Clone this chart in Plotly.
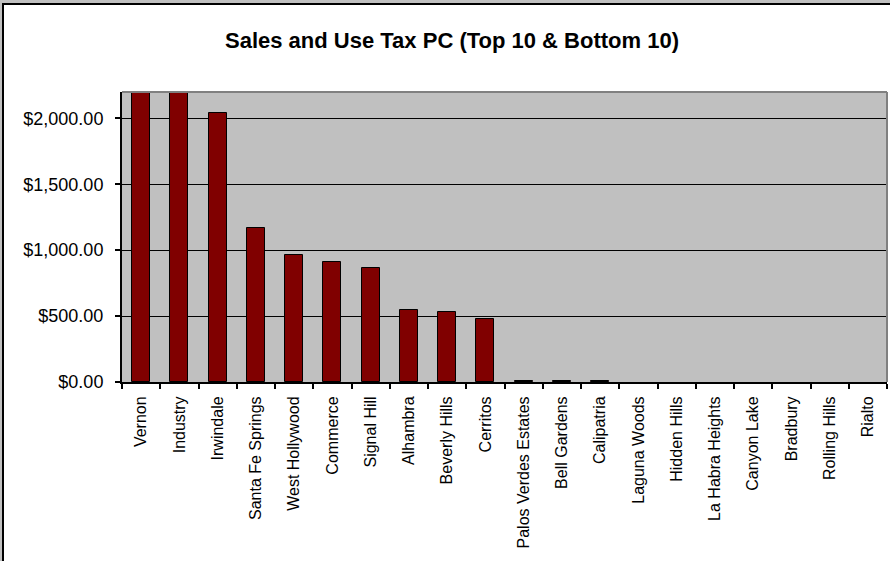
import plotly.graph_objects as go

# Sales and use tax per capita: ten highest and ten lowest cities
cities = [
    "Vernon", "Industry", "Irwindale", "Santa Fe Springs", "West Hollywood",
    "Commerce", "Signal Hill", "Alhambra", "Beverly Hills", "Cerritos",
    "Palos Verdes Estates", "Bell Gardens", "Calipatria", "Laguna Woods",
    "Hidden Hills", "La Habra Heights", "Canyon Lake", "Bradbury",
    "Rolling Hills", "Rialto",
]
tax_per_capita = [
    2500, 2400, 2043, 1172, 967,
    909, 864, 543, 528, 475,
    10, 9, 8, 0,
    0, 0, 0, 0,
    0, 0,
]
y_ticks = [0, 500, 1000, 1500, 2000]

W, H = 890, 561
ML, MR, MT, MB = 122, 3, 92, 179
FONT = "Arial, Liberation Sans, sans-serif"

# no outline on empty bars, so nothing is drawn over the axis for them
outline_widths = [1 if v > 0 else 0 for v in tax_per_capita]

fig = go.Figure(
    go.Bar(
        x=cities,
        y=tax_per_capita,
        width=0.47,
        marker=dict(color="#800000", line=dict(color="#000000", width=outline_widths)),
        hoverinfo="x+y",
    )
)


def px_x(p):
    return (p - ML) / (W - ML - MR)


def px_y(p):
    return 1 - (p - MT) / (H - MT - MB)


shapes = [
    # outer chart frame (top and left edges)
    dict(type="rect", xref="paper", yref="paper", x0=px_x(0), x1=px_x(W), y0=px_y(0), y1=px_y(3),
         fillcolor="#c0c0c0", line=dict(width=0), layer="above"),
    dict(type="rect", xref="paper", yref="paper", x0=px_x(0), x1=px_x(2), y0=px_y(0), y1=px_y(H),
         fillcolor="#c0c0c0", line=dict(width=0), layer="above"),
    dict(type="rect", xref="paper", yref="paper", x0=px_x(2), x1=px_x(W), y0=px_y(3), y1=px_y(5),
         fillcolor="#000000", line=dict(width=0), layer="above"),
    dict(type="rect", xref="paper", yref="paper", x0=px_x(2), x1=px_x(4), y0=px_y(3), y1=px_y(H),
         fillcolor="#000000", line=dict(width=0), layer="above"),
    # plot area border on the top and right
    dict(type="line", xref="paper", yref="paper", x0=0, x1=1, y0=1, y1=1,
         line=dict(color="#808080", width=2), layer="above"),
    dict(type="line", xref="paper", yref="paper", x0=1, x1=1, y0=0, y1=1,
         line=dict(color="#808080", width=2), layer="above"),
]

fig.update_layout(
    width=W,
    height=H,
    margin=dict(l=ML, r=MR, t=MT, b=MB, pad=0),
    paper_bgcolor="#ffffff",
    plot_bgcolor="#c0c0c0",
    showlegend=False,
    bargap=0,
    font=dict(family=FONT, color="#000000"),
    title=dict(
        text="<b>Sales and Use Tax PC (Top 10 &amp; Bottom 10)</b>",
        font=dict(family=FONT, size=22, color="#000000"),
        x=452 / W, xref="container", xanchor="center",
        y=1 - 40 / H, yref="container", yanchor="middle",
    ),
    xaxis=dict(
        type="category",
        tickangle=-90,
        tickfont=dict(family=FONT, size=16, color="#000000"),
        ticks="outside",
        tickson="boundaries",
        ticklen=5,
        tickwidth=2,
        tickcolor="#000000",
        showline=True,
        linecolor="#000000",
        linewidth=2,
        showgrid=False,
        ticklabelstandoff=6,
        fixedrange=True,
    ),
    yaxis=dict(
        range=[0, 2200],
        tickvals=y_ticks,
        tickformat="$,.2f",
        tickfont=dict(family=FONT, size=18, color="#000000"),
        ticks="outside",
        ticklen=5,
        tickwidth=2,
        tickcolor="#000000",
        showline=True,
        linecolor="#000000",
        linewidth=2,
        showgrid=True,
        gridcolor="#000000",
        gridwidth=1,
        zeroline=False,
        ticklabelstandoff=8,
        fixedrange=True,
    ),
    shapes=shapes,
)

fig.write_html("out.html")
